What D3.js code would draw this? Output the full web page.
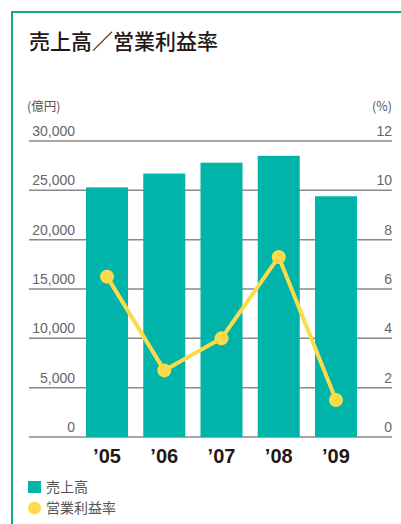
<!DOCTYPE html>
<html>
<head>
<meta charset="utf-8">
<script src="https://cdn.jsdelivr.net/npm/d3@7"></script>
<style>
  body { margin: 0; background: #fff; }
  text { font-family: "Liberation Sans", "Noto Sans CJK JP", sans-serif; }
  .jp { font-family: "Noto Sans CJK JP", sans-serif; }
</style>
</head>
<body>
<div id="chart"></div>
<script>
// data
const years = ["’05", "’06", "’07", "’08", "’09"];
const sales = [25300, 26700, 27800, 28500, 24400];   // 億円
const opMargin = [6.5, 2.7, 4.0, 7.3, 1.5];          // %
const leftTicks = [0, 5000, 10000, 15000, 20000, 25000, 30000];
const rightTicks = [0, 2, 4, 6, 8, 10, 12];

const teal = "#00b4aa", yellow = "#fcdb4a";
let svgWidth = 401, svgHeight = 524;
let plotLeft = 29, plotRight = 392, plotTop = 141, plotBottom = 437;
const formatComma = d3.format(",");

let svg = d3.select("#chart").append("svg")
    .attr("width", svgWidth)
    .attr("height", svgHeight);

// green frame (top + left)
svg.append("path")
    .attr("d", "M12," + svgHeight + "V12H" + svgWidth)
    .attr("fill", "none")
    .attr("stroke", "#17a97f")
    .attr("stroke-width", 2);

svg.append("text")
    .attr("class", "jp")
    .attr("x", 29).attr("y", 49)
    .attr("font-size", 21)
    .attr("font-weight", 500)
    .attr("fill", "#231815")
    .text("売上高／営業利益率");

let x = d3.scaleBand().domain(years).range([78.4, 364.6]).paddingInner(0.266).paddingOuter(0.133),
    y = d3.scaleLinear().domain([0, 30000]).range([plotBottom, plotTop]),
    yR = d3.scaleLinear().domain([0, 12]).range([plotBottom, plotTop]);

// unit labels
svg.append("text").attr("class", "jp")
    .attr("x", 27).attr("y", 111)
    .attr("font-size", 12.5).attr("fill", "#555")
    .text("(億円)");
svg.append("text").attr("class", "jp")
    .attr("x", plotRight).attr("y", 111)
    .attr("text-anchor", "end")
    .attr("font-size", 12.5).attr("fill", "#555")
    .text("(%)");

// gridlines
svg.append("g")
    .selectAll("line")
    .data(leftTicks)
    .enter().append("line")
    .attr("x1", plotLeft).attr("x2", plotRight)
    .attr("y1", d => y(d)).attr("y2", d => y(d))
    .attr("stroke", "#8a8a8a")
    .attr("stroke-width", 1.5);

// left axis labels
svg.append("g")
    .selectAll("text")
    .data(leftTicks)
    .enter().append("text")
    .attr("x", 75)
    .attr("y", d => y(d) - 5)
    .attr("text-anchor", "end")
    .attr("font-size", 14)
    .attr("fill", "#666")
    .text(d => formatComma(d));

// right axis labels
svg.append("g")
    .selectAll("text")
    .data(rightTicks)
    .enter().append("text")
    .attr("x", plotRight)
    .attr("y", d => yR(d) - 5)
    .attr("text-anchor", "end")
    .attr("font-size", 14)
    .attr("fill", "#666")
    .text(d => d);

// bars
svg.append("g")
    .selectAll("rect")
    .data(years)
    .enter().append("rect")
    .attr("x", d => x(d))
    .attr("y", (d, i) => y(sales[i]))
    .attr("width", x.bandwidth())
    .attr("height", (d, i) => plotBottom - y(sales[i]))
    .attr("fill", teal);

// x labels
svg.append("g")
    .selectAll("text")
    .data(years)
    .enter().append("text")
    .attr("x", d => x(d) + x.bandwidth() / 2)
    .attr("y", 463)
    .attr("text-anchor", "middle")
    .attr("font-size", 20)
    .attr("font-weight", "bold")
    .attr("fill", "#231815")
    .text(d => d);

// margin line
let line = d3.line()
    .x((d, i) => x(years[i]) + x.bandwidth() / 2)
    .y(d => yR(d));

svg.append("path")
    .datum(opMargin)
    .attr("d", line)
    .attr("fill", "none")
    .attr("stroke", yellow)
    .attr("stroke-width", 4)
    .attr("stroke-linejoin", "round");

svg.append("g")
    .selectAll("circle")
    .data(opMargin)
    .enter().append("circle")
    .attr("cx", (d, i) => x(years[i]) + x.bandwidth() / 2)
    .attr("cy", d => yR(d))
    .attr("r", 7)
    .attr("fill", yellow);

// legend
svg.append("rect")
    .attr("x", 28).attr("y", 481)
    .attr("width", 13).attr("height", 12)
    .attr("fill", teal);
svg.append("text").attr("class", "jp")
    .attr("x", 46).attr("y", 492)
    .attr("font-size", 14).attr("fill", "#555")
    .text("売上高");
svg.append("circle")
    .attr("cx", 34.5).attr("cy", 508)
    .attr("r", 6.5)
    .attr("fill", yellow);
svg.append("text").attr("class", "jp")
    .attr("x", 46).attr("y", 513)
    .attr("font-size", 14).attr("fill", "#555")
    .text("営業利益率");
</script>
</body>
</html>
